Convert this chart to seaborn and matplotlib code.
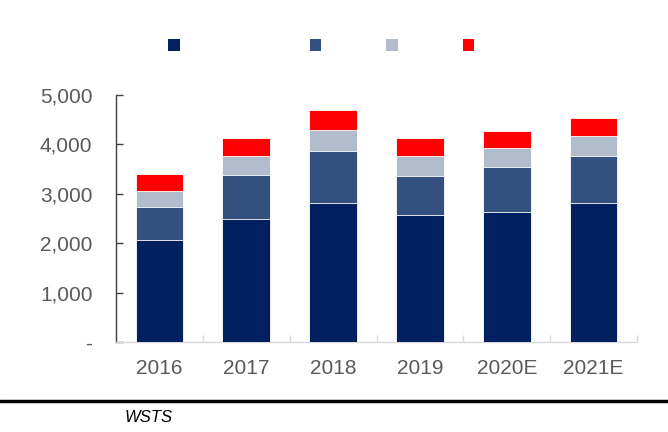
import matplotlib
matplotlib.use("Agg")
import matplotlib.pyplot as plt
import seaborn as sns
import numpy as np
import pandas as pd
from matplotlib.patches import Patch
from matplotlib.ticker import FuncFormatter, FixedLocator

years = ["2016", "2017", "2018", "2019", "2020E", "2021E"]
seg1 = [2065, 2484, 2820, 2577, 2638, 2820]
seg2 = [674, 890, 1046, 783, 898, 945]
seg3 = [324, 385, 432, 405, 385, 405]
seg4 = [332, 371, 398, 365, 350, 358]
series_colors = ["#002060", "#33507E", "#B1BDCD", "#FF0000"]
legend_labels = [" " * 21, " " * 8, " " * 8, " " * 8]
source_text = "WSTS"

sns.set_theme(style="white")
plt.rcParams["font.family"] = ["Liberation Sans", "DejaVu Sans"]

fig = plt.figure(figsize=(6.68, 4.32), dpi=100)
ax = fig.add_axes([116 / 668, 1 - 342 / 432, (637 - 116) / 668, (342 - 95) / 432])

segs = [seg1, seg2, seg3, seg4]
cum = np.cumsum(np.array(segs), axis=0)
df = pd.DataFrame({"year": years})
for i in range(3, -1, -1):
    df["v"] = cum[i]
    sns.barplot(data=df, x="year", y="v", color=series_colors[i], width=0.55,
                edgecolor="white", linewidth=0.6, saturation=1, ax=ax, zorder=2 + (3 - i))

ax.set_xlim(-0.5, 5.5)
ax.set_ylim(0, 5000)
ax.set_yticks([0, 1000, 2000, 3000, 4000, 5000])
ax.yaxis.set_major_formatter(FuncFormatter(lambda v, p: "-" if v == 0 else f"{int(v):,}"))
ax.set_xlabel("")
ax.set_ylabel("")

for s in ["top", "right"]:
    ax.spines[s].set_visible(False)
ax.spines["left"].set_color("#404040")
ax.spines["left"].set_linewidth(1.0)
ax.spines["bottom"].set_color("#d9d9d9")
ax.spines["bottom"].set_linewidth(1.0)

ax.tick_params(axis="y", direction="in", length=5, width=1, color="#404040",
               labelsize=15, labelcolor="#595959", pad=17, left=True)
ax.tick_params(axis="x", which="major", length=0, labelsize=15, labelcolor="#595959", pad=12)
ax.xaxis.set_minor_locator(FixedLocator(np.arange(-0.5, 6, 1.0)))
ax.tick_params(axis="x", which="minor", direction="in", length=5, width=1, color="#d9d9d9", bottom=True)

handles = [Patch(facecolor=c, edgecolor="none") for c in series_colors]
fig.legend(handles, legend_labels, loc="center left", bbox_to_anchor=(168.5 / 668, 1 - 47 / 432),
           ncol=4, frameon=False, fontsize=13, handlelength=0.62, handleheight=0.62,
           handletextpad=0.4, columnspacing=1.0, borderpad=0, borderaxespad=0)

fig.add_artist(plt.Line2D([0, 1], [1 - 401 / 432, 1 - 401 / 432], color="black", linewidth=2.5,
                          transform=fig.transFigure))
fig.text(125 / 668, 1 - 417 / 432, source_text, fontsize=12, style="italic", color="black",
         ha="left", va="center")

fig.savefig("out.png", dpi=100)
